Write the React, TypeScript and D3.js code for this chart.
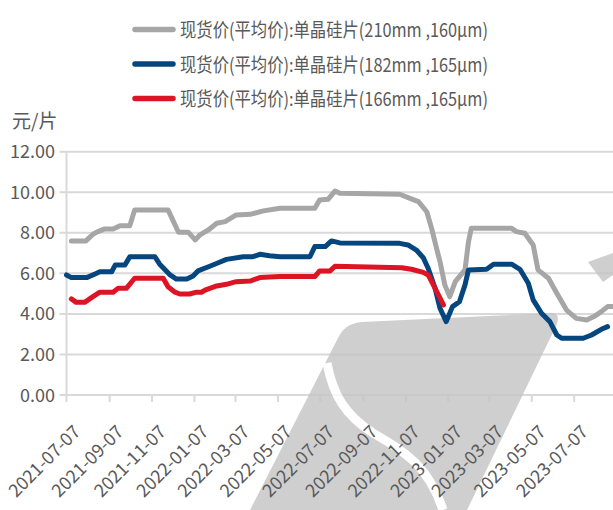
import React from "react";
import * as d3 from "d3";

const seriesNames = [
  "现货价(平均价):单晶硅片(210mm ,160μm)",
  "现货价(平均价):单晶硅片(182mm ,165μm)",
  "现货价(平均价):单晶硅片(166mm ,165μm)",
];
const seriesColors = ["#A6A6A6", "#06467E", "#DC1424"];

const grayDates = ["2021-07-14","2021-08-04","2021-08-14","2021-08-21","2021-08-31","2021-09-12","2021-09-22","2021-10-06","2021-10-13","2021-11-30","2021-12-15","2021-12-29","2022-01-08","2022-01-15","2022-01-27","2022-02-08","2022-02-20","2022-03-08","2022-03-28","2022-04-16","2022-05-10","2022-06-29","2022-07-06","2022-07-18","2022-07-28","2022-08-04","2022-10-29","2022-11-13","2022-11-25","2022-12-07","2022-12-14","2022-12-21","2022-12-26","2023-01-02","2023-01-09","2023-01-17","2023-01-31","2023-02-05","2023-02-09","2023-04-08","2023-04-15","2023-04-27","2023-05-09","2023-05-16","2023-05-31","2023-06-12","2023-06-26","2023-07-10","2023-07-25","2023-08-06","2023-08-15","2023-08-24","2023-08-31"];
const grayValues = [7.6,7.6,7.93,8.06,8.19,8.19,8.35,8.35,9.13,9.13,8.03,8.03,7.65,7.9,8.14,8.47,8.55,8.88,8.91,9.08,9.21,9.21,9.62,9.65,10.06,9.95,9.9,9.7,9.54,9.04,8.22,7.24,6.58,5.43,4.85,5.59,6.17,7.56,8.22,8.22,8.06,7.98,7.4,6.17,5.76,5.02,4.19,3.78,3.7,3.9,4.11,4.36,4.36];

const blueDates = ["2021-07-07","2021-07-14","2021-08-05","2021-08-17","2021-08-24","2021-09-10","2021-09-15","2021-09-29","2021-10-06","2021-11-11","2021-11-18","2021-12-03","2021-12-12","2021-12-27","2022-01-05","2022-01-12","2022-01-29","2022-02-12","2022-02-22","2022-03-18","2022-04-01","2022-04-11","2022-04-25","2022-05-10","2022-06-22","2022-06-29","2022-07-14","2022-07-23","2022-08-04","2022-10-29","2022-11-10","2022-11-22","2022-12-02","2022-12-09","2022-12-19","2022-12-26","2023-01-04","2023-01-13","2023-01-23","2023-01-31","2023-02-05","2023-03-03","2023-03-13","2023-04-08","2023-04-20","2023-05-02","2023-05-09","2023-05-21","2023-06-02","2023-06-12","2023-06-19","2023-07-20","2023-08-01","2023-08-15","2023-08-24"];
const blueValues = [5.92,5.79,5.79,5.97,6.08,6.08,6.41,6.41,6.82,6.82,6.45,5.92,5.72,5.72,5.87,6.12,6.35,6.55,6.69,6.82,6.82,6.94,6.87,6.82,6.82,7.32,7.32,7.6,7.5,7.48,7.4,7.15,6.77,6.25,5.26,4.28,3.62,4.36,4.6,5.43,6.17,6.2,6.45,6.45,6.2,5.51,4.69,4.03,3.62,2.96,2.8,2.8,2.96,3.24,3.37];

const redDates = ["2021-07-14","2021-07-21","2021-08-02","2021-08-14","2021-08-24","2021-09-12","2021-09-19","2021-10-01","2021-10-13","2021-11-23","2021-11-30","2021-12-10","2021-12-17","2021-12-31","2022-01-10","2022-01-17","2022-01-24","2022-02-08","2022-02-22","2022-03-08","2022-03-28","2022-04-11","2022-05-10","2022-06-29","2022-07-06","2022-07-21","2022-07-28","2022-11-01","2022-11-15","2022-12-02","2022-12-09","2022-12-19","2022-12-31"];
const redValues = [4.74,4.57,4.57,4.85,5.07,5.07,5.26,5.26,5.76,5.76,5.34,5.07,4.98,4.98,5.07,5.07,5.2,5.38,5.46,5.59,5.62,5.79,5.84,5.84,6.12,6.12,6.35,6.28,6.2,6.05,5.92,5.26,4.44];

const xTickLabels = ["2021-07-07","2021-09-07","2021-11-07","2022-01-07","2022-03-07","2022-05-07","2022-07-07","2022-09-07","2022-11-07","2023-01-07","2023-03-07","2023-05-07","2023-07-07"];
const yTicks = [0, 2, 4, 6, 8, 10, 12];
const yUnit = "元/片";

const parse = d3.utcParse("%Y-%m-%d");

export default function App() {
  const W = 613, H = 510;
  const x = d3.scaleUtc()
    .domain([parse("2021-07-07")!, parse("2023-07-07")!])
    .range([66.5, 574.2]);
  const y = d3.scaleLinear().domain([0, 12]).range([395, 151.7]);
  const left = 66.5, right = 613;

  const series = [
    { dates: grayDates, values: grayValues },
    { dates: blueDates, values: blueValues },
    { dates: redDates, values: redValues },
  ];
  const line = d3.line<[Date, number]>()
    .x((d) => x(d[0]))
    .y((d) => y(d[1]));

  const narrow = "'Liberation Sans Narrow', 'Arial Narrow', 'Noto Sans CJK SC', sans-serif";
  const cjk = "'Liberation Sans Narrow', 'Noto Sans CJK SC', sans-serif";
  const txt = "#595959";

  return (
    <svg width={W} height={H} style={{ position: "absolute", left: 0, top: 0 }}>
      <rect x={0} y={0} width={W} height={H} fill="#ffffff" />
      {/* gridlines */}
      {yTicks.map((t) => (
        <line key={"g" + t} x1={left - 7} x2={right} y1={y(t)} y2={y(t)} stroke="#D9D9D9" strokeWidth={2} />
      ))}
      <line x1={left} x2={left} y1={y(12)} y2={y(0)} stroke="#D9D9D9" strokeWidth={2} />
      {xTickLabels.map((l) => (
        <line key={"t" + l} x1={x(parse(l)!)} x2={x(parse(l)!)} y1={y(0)} y2={y(0) + 7} stroke="#D9D9D9" strokeWidth={2} />
      ))}
      {/* watermark */}
      <g opacity={0.8}>
        <path d="M250,510 L338,338 Q345,323 362,322 L553,313 Q560,314 557,324 L467,510 Z" fill="#C4C4C4" />
        <path d="M327,363 C333,395 345,415 373,433 C405,452 428,465 443,510" fill="none" stroke="#ffffff" strokeWidth={9} />
        <path d="M588,262 L613,253 L613,275 L603,282 Z" fill="#C4C4C4" />
      </g>
      {/* series */}
      {series.map((s, i) => (
        <path
          key={"s" + i}
          d={line(s.dates.map((dt, j) => [parse(dt)!, s.values[j]] as [Date, number])) || ""}
          fill="none"
          stroke={seriesColors[i]}
          strokeWidth={5}
          strokeLinejoin="round"
          strokeLinecap="round"
        />
      ))}
      {/* y labels */}
      {yTicks.map((t) => (
        <text key={"yl" + t} x={55} y={y(t) + 6.5} textAnchor="end" fontSize={18} fontFamily={narrow} fill={txt}>
          {t.toFixed(2)}
        </text>
      ))}
      <text x={12} y={128} fontSize={19} fontFamily={cjk} fill={txt}>{yUnit}</text>
      {/* x labels */}
      {xTickLabels.map((l) => {
        const tx = x(parse(l)!) + 15;
        const ty = 433;
        return (
          <text key={"xl" + l} x={tx} y={ty} textAnchor="end" fontSize={18} fontFamily={narrow} fill={txt}
            transform={`rotate(-45 ${tx} ${ty})`}>
            {l}
          </text>
        );
      })}
      {/* legend */}
      {seriesNames.map((n, i) => {
        const cy = 29.5 + i * 34.5;
        return (
          <g key={"lg" + i}>
            <line x1={135} x2={173} y1={cy} y2={cy} stroke={seriesColors[i]} strokeWidth={5.5} strokeLinecap="round" />
            <text x={180} y={cy + 7.5} fontSize={19} fontFamily={cjk} fill={txt} textLength={308} lengthAdjust="spacingAndGlyphs">
              {n}
            </text>
          </g>
        );
      })}
    </svg>
  );
}
